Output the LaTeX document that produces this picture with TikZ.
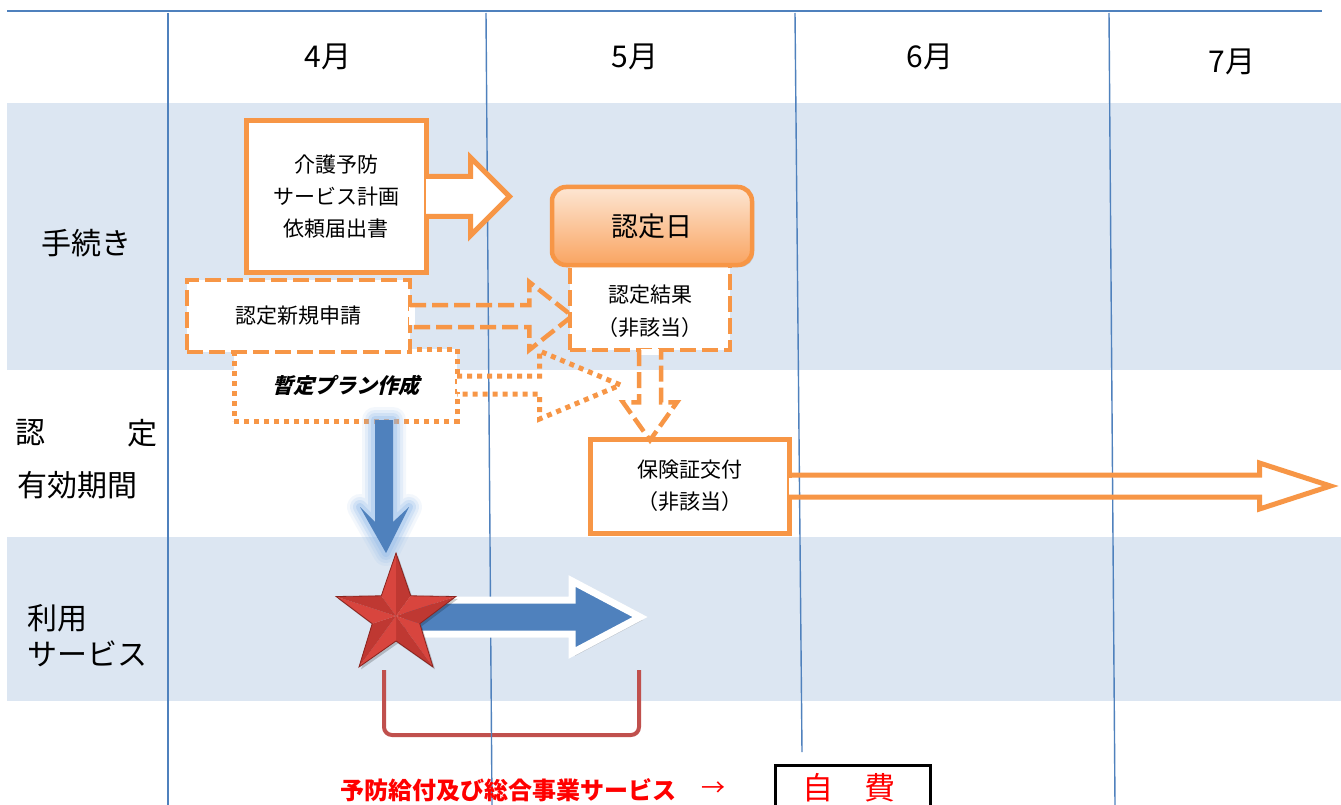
\documentclass[tikz,border=0pt]{standalone}
\usepackage{fontspec}
\setmainfont{Noto Sans CJK JP}
\newfontfamily\jpsl{Noto Sans CJK JP}[FakeSlant=0.25,BoldFeatures={FakeSlant=0.25}]
\usetikzlibrary{calc,shadows}
\definecolor{org}{HTML}{F79646}
\definecolor{gridblue}{HTML}{4F81BD}
\definecolor{band}{HTML}{DCE6F2}
\definecolor{arrblue}{HTML}{4F81BD}
\definecolor{glowc}{HTML}{8DB8EA}
\definecolor{brk}{HTML}{C0504D}
\definecolor{starlt}{HTML}{D8453E}
\definecolor{stardk}{HTML}{BF3832}
\definecolor{staredge}{HTML}{8A231E}
\definecolor{peach1}{HTML}{FDE6D3}
\definecolor{peach2}{HTML}{F9A461}
\begin{document}
\begin{tikzpicture}[x=1pt,y=-1pt,
  box/.style={draw=org,line width=5pt,fill=white,inner sep=0pt,align=center},
  dashbox/.style={draw=org,line width=4.5pt,dash pattern=on 16pt off 6pt,fill=white,inner sep=0pt,align=center},
  dotbox/.style={draw=org,line width=5pt,dash pattern=on 5pt off 5pt,fill=white,inner sep=0pt,align=center},
  solidarrow/.style={draw=org,line width=5pt,fill=white},
  dasharrow/.style={draw=org,line width=4.5pt,dash pattern=on 16pt off 6pt},
  dotarrow/.style={draw=org,line width=5pt,dash pattern=on 5pt off 5pt},
  gridline/.style={draw=gridblue,line width=1.4pt},
  txt/.style={inner sep=0pt,align=center},
  t21/.style={font=\fontsize{21}{32}\selectfont},
  month/.style={txt,font=\fontsize{30}{30}\selectfont},
  rowlabel/.style={txt,font=\fontsize{30}{36}\selectfont},
]
\useasboundingbox (0,0) rectangle (1341,805);
\clip (0,0) rectangle (1341,805);
\fill[white] (0,0) rectangle (1341,805);
% bands
\fill[band] (7,103) rectangle (1341,370);
\fill[band] (7,537) rectangle (1341,701);
% bracket
\draw[brk,line width=4pt,rounded corners=8pt] (384,670) -- (384,735) -- (639,735) -- (639,670);
% grid
\draw[gridline,line width=2.5pt] (7,11) -- (1322,11);
\draw[gridline] (168,13) -- (168,805);
\draw[gridline] (486,13) -- (492,805);
\draw[gridline] (795,13) -- (802,752);
\draw[gridline] (1109,13) -- (1115,805);
% months
\node[month] (m4) at (328,57) {4月};
\node[month] (m5) at (635,57) {5月};
\node[month] (m6) at (930,57) {6月};
\node[month] (m7) at (1232,62) {7月};
% row labels
\node[rowlabel] (r1) at (86,243) {手続き};
\node[rowlabel] (r2a) at (30,433) {認};
\node[rowlabel] (r2b) at (142,433) {定};
\node[rowlabel] (r2c) at (77,485) {有効期間};
\node[rowlabel,anchor=west] (r3a) at (27,618) {利用};
\node[rowlabel,anchor=west] (r3b) at (27,654) {サービス};

% dotted box + arrow
\node[dotbox,minimum width=223pt,minimum height=72pt,font={\jpsl\bfseries\fontsize{21}{21}\selectfont}] (zantei) at (345.5,385) {暫定プラン作成};
\fill[white] ($(zantei.east)+(-3,-6.5)$) rectangle ($(zantei.east)+(3,6.5)$);
\draw[dotarrow] ($(zantei.east)+(-2.5,-9)$) -- ++(82.5,0) -- ++(0,-25) -- ++(81,34) -- ++(-81,34) -- ++(0,-25) -- ++(-82.5,0);

% dashed box + arrow
\node[dashbox,minimum width=223pt,minimum height=72pt,t21] (shinki) at (298.5,316) {認定新規申請};
\fill[white] ($(shinki.east)+(-3,-8.75)$) rectangle ($(shinki.east)+(2.6,8.75)$);
\draw[dasharrow] ($(shinki.east)+(-2.25,-11)$) -- ++(119.25,0) -- ++(0,-23) -- ++(43,34) -- ++(-43,34) -- ++(0,-23) -- ++(-119.25,0);

% kaigo box + arrow
\node[box,minimum width=180pt,minimum height=151pt,t21] (kaigo) at (336,196.5) {介護予防\\サービス計画\\依頼届出書};
\draw[solidarrow] ($(kaigo.east)+(-2.5,-20)$) -- ++(44.5,0) -- ++(0,-19) -- ++(39,39) -- ++(-39,39) -- ++(0,-19) -- ++(-44.5,0);

% kekka + nintei
\node[dashbox,minimum width=160pt,minimum height=90pt] (kekka) at (650,305) {};
\node[txt,font=\fontsize{21}{33}\selectfont] (kekkat) at (650,311) {認定結果\\（非該当）};
\node[draw=org,line width=4.5pt,rounded corners=14pt,top color=peach1,bottom color=peach2,
      minimum width=200pt,minimum height=78pt,inner sep=0pt,
      drop shadow={shadow xshift=2pt,shadow yshift=-2pt,opacity=0.3},
      font=\fontsize{27}{27}\selectfont] (nintei) at (652,226) {認定日};

% hoken box + arrows
\node[box,minimum width=199pt,minimum height=94pt,font=\fontsize{21}{32}\selectfont] (hoken) at (689.5,486) {保険証交付\\（非該当）};
\fill[white] ($(kekka.south)+(-8.75,-3)$) rectangle ($(kekka.south)+(8.75,2.6)$);
\draw[dasharrow] ($(kekka.south)+(-11,-2.25)$) -- ++(0,52.25) -- ++(-16,0) -- ++(27,38) -- ++(27,-38) -- ++(-16,0) -- ++(0,-52.25);
\fill[white] ($(hoken.east)+(-3,-8.5)$) rectangle ($(hoken.east)+(3,8.5)$);
\draw[solidarrow,fill=none] ($(hoken.east)+(-2.5,-11)$) -- ++(470.5,0) -- ++(0,-12) -- ++(71,23) -- ++(-71,23) -- ++(0,-12) -- ++(-470.5,0);

% blue down arrow with glow
\foreach \w/\o in {26/0.10,20/0.15,14/0.22,8/0.3}
  \draw[glowc,line width=\w pt,opacity=\o,line join=round] (375,420) -- (393,420) -- (393,522) -- (409,507) -- (386,553) -- (360,507) -- (375,522) -- cycle;
\fill[arrblue] (375,420) -- (393,420) -- (393,522) -- (409,507) -- (386,553) -- (360,507) -- (375,522) -- cycle;

% blue right arrow
\draw[draw=white,line width=7pt,fill=arrblue,
      drop shadow={shadow xshift=3pt,shadow yshift=-3pt,opacity=0.3}]
  (400,600) -- (572,600) -- (572,581) -- (640,617) -- (572,653) -- (572,634) -- (400,634) -- cycle;

% star
\coordinate (sc) at (396,616);
\fill[black,opacity=0.2] ($(sc)+(2,3)$) ++(0,-63) -- ++(14.7,42.2) -- ++(45.2,0.7) -- ++(-36.1,27.2) -- ++(13.2,43.3) -- ++(-37,-26) -- ++(-37,26) -- ++(13.2,-43.3) -- ++(-36.1,-27.2) -- ++(45.2,-0.7) -- cycle;
\foreach \k in {0,...,4}{
  \pgfmathsetmacro\a{-90+72*\k}
  \fill[starlt] (sc) -- ($(sc)+(\a:63)$) -- ($(sc)+(\a-36:25)$) -- cycle;
  \fill[stardk] (sc) -- ($(sc)+(\a:63)$) -- ($(sc)+(\a+36:25)$) -- cycle;
}
\draw[staredge,line width=0.8pt,line join=miter] (396,553) -- (410.7,595.8) -- (455.9,596.5) -- (419.8,623.7) -- (433,667) -- (396,641) -- (359,667) -- (372.2,623.7) -- (336.1,596.5) -- (381.3,595.8) -- cycle;

% bottom legend
\node[txt,text=red,font=\bfseries\fontsize{24}{24}\selectfont] (svc) at (508,790) {予防給付及び総合事業サービス};
\node[txt,text=red,font=\fontsize{24}{24}\selectfont] (arr) at (713,789) {→};
\node[draw=black,line width=2.5pt,minimum width=155pt,minimum height=60pt,anchor=north west,inner sep=0pt] (jihi) at (774,764) {};
\node[txt,text=red,font=\fontsize{31}{31}\selectfont] (jihit) at (849,788) {自　費};
\end{tikzpicture}
\end{document}
